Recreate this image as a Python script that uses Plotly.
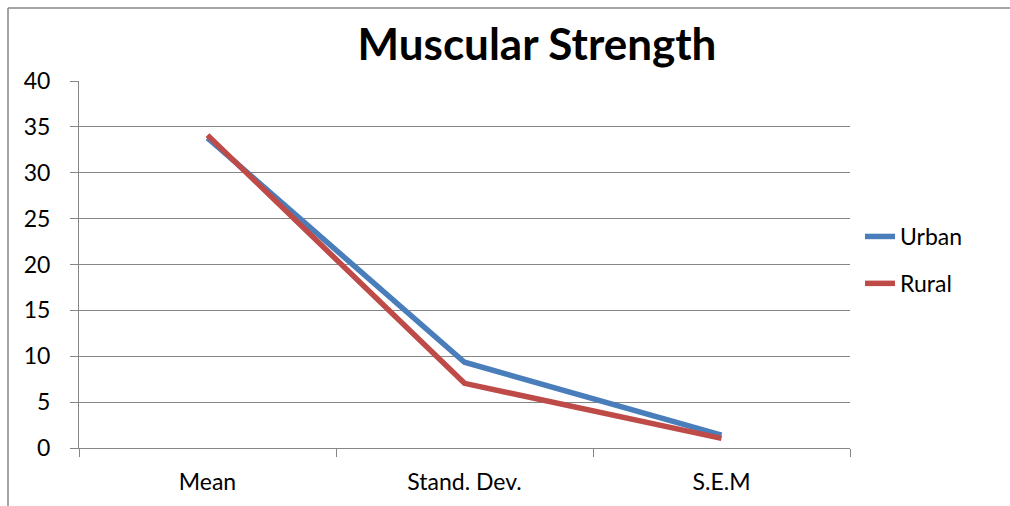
import plotly.graph_objects as go

categories = ["Mean", "Stand. Dev.", "S.E.M"]
urban = [33.8, 9.35, 1.4]
rural = [34.1, 7.05, 1.05]
y_ticks = [0, 5, 10, 15, 20, 25, 30, 35, 40]

FONT = "Lato, 'Liberation Sans', sans-serif"
GRID = "#868686"

fig = go.Figure()
fig.add_trace(go.Scatter(x=categories, y=urban, mode="lines", name="Urban",
                         line=dict(color="#4A7EBB", width=5.5), legendgroup="u"))
fig.add_trace(go.Scatter(x=categories, y=rural, mode="lines", name="Rural",
                         line=dict(color="#BE4B48", width=5.5), legendgroup="r"))

L, R, T, B = 79, 160, 81, 58
W, H = 1010, 506
pw, ph = W - L - R, H - T - B

def px_x(p):
    return (p - L) / pw

def px_y(p):
    return (H - B - p) / ph

fig.update_layout(
    width=W, height=H,
    margin=dict(l=L, r=R, t=T, b=B),
    paper_bgcolor="white", plot_bgcolor="white",
    font=dict(family=FONT, size=23, color="black"),
    title=dict(text="<b>Muscular Strength</b>", x=537 / W,
               xanchor="center", y=1 - 45 / H, yanchor="middle",
               font=dict(size=44, family=FONT, color="black")),
    showlegend=True,
    legend=dict(x=px_x(860), y=px_y(215), xanchor="left", yanchor="top",
                font=dict(size=23, family=FONT), tracegroupgap=14,
                bgcolor="rgba(0,0,0,0)", itemwidth=30),
    xaxis=dict(type="category", tickson="boundaries", ticks="outside", ticklen=8,
               tickcolor=GRID, showline=True, linecolor=GRID, linewidth=1,
               showgrid=False, range=[-0.5, 2.5], ticklabelstandoff=13,
               tickfont=dict(size=23, family=FONT)),
    yaxis=dict(range=[0, 40], tickvals=y_ticks, ticks="outside", ticklen=8,
               tickcolor=GRID, showline=True, linecolor=GRID, linewidth=1,
               showgrid=True, gridcolor=GRID, gridwidth=1, zeroline=False,
               ticklabelstandoff=15, tickfont=dict(size=23, family=FONT)),
    shapes=[
        dict(type="line", xref="paper", yref="paper", x0=px_x(8), x1=px_x(1012),
             y0=px_y(8), y1=px_y(8), line=dict(color=GRID, width=1.5)),
        dict(type="line", xref="paper", yref="paper", x0=px_x(8), x1=px_x(8),
             y0=px_y(8), y1=px_y(510), line=dict(color=GRID, width=1.5)),
    ],
)

fig.write_html("out.html")
